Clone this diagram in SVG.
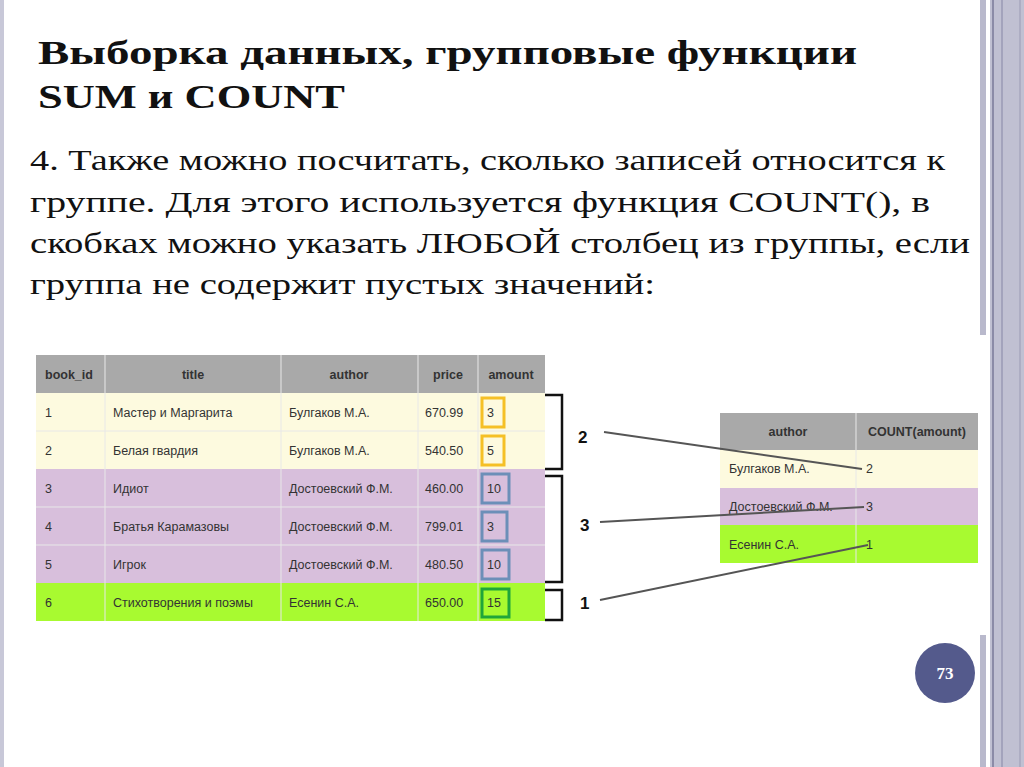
<svg xmlns="http://www.w3.org/2000/svg" width="1024" height="767" viewBox="0 0 1024 767">
<style>
.t{font-family:"Liberation Sans",Arial,sans-serif;font-size:12.5px;fill:#333}
.h{font-family:"Liberation Sans",Arial,sans-serif;font-size:12.5px;font-weight:bold;fill:#333}
.big{font-family:"Liberation Serif","Times New Roman",serif;fill:#111}
.lbl{font-family:"Liberation Sans",Arial,sans-serif;font-size:17px;font-weight:bold;fill:#111}
.sep{stroke:#e8e8e8;stroke-width:1}
.ln{stroke:#555;stroke-width:2;fill:none}
.br{stroke:#111;stroke-width:2.5;fill:none}
</style>
<rect width="1024" height="767" fill="#fff"/>
<rect x="0" y="0" width="4" height="767" fill="#c8c8d8"/>
<rect x="980" y="0" width="6" height="335" fill="#b9b9cc"/>
<rect x="980" y="635" width="6" height="132" fill="#b9b9cc"/>
<rect x="990" y="0" width="34" height="767" fill="#c0c0d2"/>
<line x1="993" y1="0" x2="993" y2="767" stroke="#7a7a98" stroke-width="1.5"/>
<line x1="1002" y1="0" x2="1002" y2="767" stroke="#9a9ab4" stroke-width="1.5"/>
<line x1="1020" y1="0" x2="1020" y2="767" stroke="#9a9ab4" stroke-width="1"/>

<text class="big" font-size="34" font-weight="bold" x="38" y="64" textLength="819" lengthAdjust="spacingAndGlyphs">Выборка данных, групповые функции</text>
<text class="big" font-size="34" font-weight="bold" x="38" y="108" textLength="307" lengthAdjust="spacingAndGlyphs">SUM и COUNT</text>
<text class="big" font-size="29" x="30" y="170" textLength="915" lengthAdjust="spacingAndGlyphs">4. Также можно посчитать, сколько записей относится к</text>
<text class="big" font-size="29" x="30" y="212" textLength="900" lengthAdjust="spacingAndGlyphs">группе. Для этого используется функция COUNT(), в</text>
<text class="big" font-size="29" x="30" y="253" textLength="940" lengthAdjust="spacingAndGlyphs">скобках можно указать ЛЮБОЙ столбец из группы, если</text>
<text class="big" font-size="29" x="30" y="294" textLength="625" lengthAdjust="spacingAndGlyphs">группа не содержит пустых значений:</text>

<g id="table-books">
<rect x="36" y="355" width="509" height="38" fill="#a9a9a9"/>
<rect x="36" y="393" width="509" height="76" fill="#fdfadf"/>
<rect x="36" y="469" width="509" height="114" fill="#d8bfdc"/>
<rect x="36" y="583" width="509" height="38" fill="#a8fa30"/>
<g class="sep">
<line x1="105" y1="355" x2="105" y2="621"/><line x1="281" y1="355" x2="281" y2="621"/><line x1="418" y1="355" x2="418" y2="621"/><line x1="478" y1="355" x2="478" y2="621"/>
<line x1="36" y1="431" x2="545" y2="431"/><line x1="36" y1="507" x2="545" y2="507"/><line x1="36" y1="545" x2="545" y2="545"/>
</g>
<text class="h" x="45" y="379">book_id</text>
<text class="h" x="193" y="379" text-anchor="middle">title</text>
<text class="h" x="349" y="379" text-anchor="middle">author</text>
<text class="h" x="448" y="379" text-anchor="middle">price</text>
<text class="h" x="511" y="379" text-anchor="middle">amount</text>
<g class="t">
<text x="45" y="417">1</text><text x="113" y="417">Мастер и Маргарита</text><text x="289" y="417">Булгаков М.А.</text><text x="425" y="417">670.99</text><text x="487" y="417">3</text>
<text x="45" y="455">2</text><text x="113" y="455">Белая гвардия</text><text x="289" y="455">Булгаков М.А.</text><text x="425" y="455">540.50</text><text x="487" y="455">5</text>
<text x="45" y="493">3</text><text x="113" y="493">Идиот</text><text x="289" y="493">Достоевский Ф.М.</text><text x="425" y="493">460.00</text><text x="487" y="493">10</text>
<text x="45" y="531">4</text><text x="113" y="531">Братья Карамазовы</text><text x="289" y="531">Достоевский Ф.М.</text><text x="425" y="531">799.01</text><text x="487" y="531">3</text>
<text x="45" y="569">5</text><text x="113" y="569">Игрок</text><text x="289" y="569">Достоевский Ф.М.</text><text x="425" y="569">480.50</text><text x="487" y="569">10</text>
<text x="45" y="607">6</text><text x="113" y="607">Стихотворения и поэмы</text><text x="289" y="607">Есенин С.А.</text><text x="425" y="607">650.00</text><text x="487" y="607">15</text>
</g>
<g fill="none" stroke-width="3">
<rect x="482" y="398" width="22" height="29" stroke="#f5c026"/>
<rect x="482" y="436" width="22" height="29" stroke="#f5c026"/>
<rect x="482" y="474" width="27" height="29" stroke="#6c8fb8"/>
<rect x="482" y="512" width="25" height="29" stroke="#6c8fb8"/>
<rect x="482" y="550" width="27" height="29" stroke="#6c8fb8"/>
<rect x="482" y="589" width="27" height="28" stroke="#1fa53a"/>
</g>
</g>

<g id="table-count">
<rect x="720" y="413" width="258" height="37" fill="#a9a9a9"/>
<rect x="720" y="450" width="258" height="38" fill="#fdfadf"/>
<rect x="720" y="488" width="258" height="37" fill="#d8bfdc"/>
<rect x="720" y="525" width="258" height="38" fill="#a8fa30"/>
<line class="sep" x1="856" y1="413" x2="856" y2="563"/>
<text class="h" x="788" y="436" text-anchor="middle">author</text>
<text class="h" x="917" y="436" text-anchor="middle">COUNT(amount)</text>
<g class="t">
<text x="729" y="473">Булгаков М.А.</text><text x="866" y="473">2</text>
<text x="729" y="511">Достоевский Ф.М.</text><text x="866" y="511">3</text>
<text x="729" y="549">Есенин С.А.</text><text x="866" y="549">1</text>
</g>
</g>

<g id="connectors">
<path class="br" d="M545 395 H562 V469 H545"/>
<path class="br" d="M545 476 H562 V582 H545"/>
<path class="br" d="M545 590 H562 V620 H545"/>
<text class="lbl" x="578" y="443">2</text>
<text class="lbl" x="580" y="531">3</text>
<text class="lbl" x="580" y="609">1</text>
<line class="ln" x1="604" y1="432" x2="862" y2="469"/>
<line class="ln" x1="600" y1="522" x2="864" y2="507"/>
<line class="ln" x1="600" y1="600" x2="868" y2="545"/>
</g>

<g id="page-number">
<ellipse cx="945" cy="673" rx="30" ry="30" fill="#545a8c"/>
<text x="945" y="679" text-anchor="middle" font-family="Liberation Serif,serif" font-size="17" font-weight="bold" fill="#fff">73</text>
</g>
</svg>
